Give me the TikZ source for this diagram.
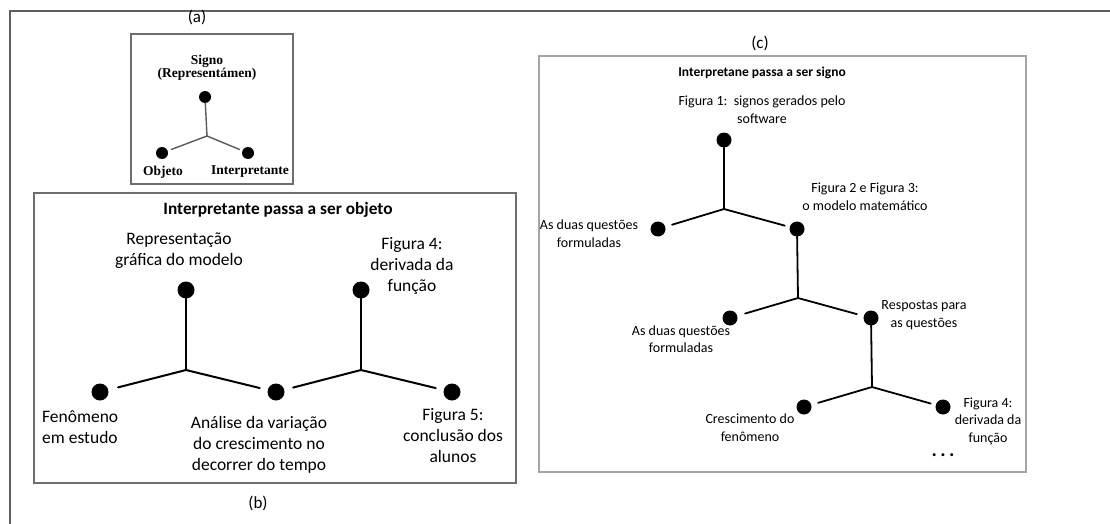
\documentclass[tikz,border=0pt]{standalone}
\usepackage{fontspec}
\setmainfont{Carlito}
\newfontfamily\timesfont{Liberation Serif}
\usetikzlibrary{positioning}
\definecolor{framegray}{RGB}{95,95,95}
\definecolor{boxgray}{RGB}{110,110,110}
\definecolor{lightgray}{RGB}{165,165,165}

\tikzset{
  ponto/.style={circle, fill=black, inner sep=0pt, minimum size=#1},
  rotulo/.style={inner sep=0pt, font=\fontsize{17}{20}\selectfont},
  serifa/.style={inner sep=0pt, align=center, font=\timesfont\bfseries\fontsize{13.5}{12}\selectfont},
  textoB/.style={inner sep=0pt, align=center, font=\fontsize{17.5}{21}\selectfont},
  textoC/.style={inner sep=0pt, align=center, font=\fontsize{14}{17.5}\selectfont},
  haste/.style={line width=#1},
}

\begin{document}
\begin{tikzpicture}[x=1pt, y=-1pt, line cap=round]
  \useasboundingbox (0,0) rectangle (1110,524);

  % Outer frame
  \draw[framegray, line width=1.2] (1110,11) -| (10,524);

  % (a) triad
  \node[rotulo] (labA) at (197,17) {(a)};
  \draw[boxgray, line width=1.2] (131,34) rectangle (293,184);
  \node[serifa] (sigLA) at (207,67.5) {Signo\\(Representámen)};
  \node[ponto=12] (sigA) at (205,97) {};
  \node[ponto=12] (objA) at (162,153) {};
  \node[ponto=12] (intA) at (248,153) {};
  \coordinate (jA) at (207,136);
  \draw[haste=1.4, black!65] (sigA) -- (jA);
  \draw[haste=1.4, black!65, shorten >=4] (jA) -- (objA);
  \draw[haste=1.4, black!65, shorten >=3] (jA) -- (intA);
  \node[serifa] (objLA) at (163,172) {Objeto};
  \node[serifa] (intLA) at (250,172) {Interpretante};

  % (b) interpretante passa a ser objeto
  \node[rotulo] (labB) at (258,503) {(b)};
  \draw[boxgray, line width=1.2] (34,193) rectangle (516,483);
  \node[textoB, font=\bfseries\fontsize{17.3}{19}\selectfont] (titB) at (278,210) {Interpretante passa a ser objeto};
  \node[ponto=17] (repB) at (186,290) {};
  \node[ponto=17] (fenB) at (100,392) {};
  \node[ponto=17] (anaB) at (276,392) {};
  \node[ponto=17] (figQB) at (361,290) {};
  \node[ponto=17] (figCB) at (452,392) {};
  \coordinate (jB1) at (186,370);
  \coordinate (jB2) at (361,370);
  \draw[haste=2] (repB) -- (jB1);
  \draw[haste=2, shorten >=10] (jB1) -- (fenB);
  \draw[haste=2, shorten >=8] (jB1) -- (anaB);
  \draw[haste=2] (figQB) -- (jB2);
  \draw[haste=2, shorten >=9] (jB2) -- (anaB);
  \draw[haste=2, shorten >=8] (jB2) -- (figCB);
  \node[textoB] (repLB) at (179,250.5) {Representação\\gráfica do modelo};
  \node[textoB] (figQLB) at (412,266) {Figura 4:\\derivada da\\função};
  \node[textoB, align=left, anchor=west] (fenLB) at (42,427.5) {Fenômeno\\em estudo};
  \node[textoB] (anaLB) at (259,444.5) {Análise da variação\\do crescimento no\\decorrer do tempo};
  \node[textoB] (figCLB) at (453,436) {Figura 5:\\conclusão dos\\alunos};

  % (c) interpretante passa a ser signo
  \node[rotulo] (labC) at (760,43) {(c)};
  \draw[lightgray, line width=1.5] (539,56) rectangle (1026,472);
  \node[textoC, font=\bfseries\fontsize{13.5}{16}\selectfont] (titC) at (762,73) {Interpretane passa a ser signo};
  \node[ponto=15] (f1C) at (724,140) {};
  \node[ponto=15] (dqC1) at (658,229) {};
  \node[ponto=15] (f23C) at (797,229) {};
  \node[ponto=15] (dqC2) at (730,318) {};
  \node[ponto=15] (respC) at (871,318) {};
  \node[ponto=15] (crC) at (804,407) {};
  \node[ponto=15] (f4C) at (943,407) {};
  \coordinate (jC1) at (724,209);
  \coordinate (jC2) at (798,298);
  \coordinate (jC3) at (872,387);
  \draw[haste=1.8] (f1C) -- (jC1);
  \draw[haste=1.8, shorten >=7] (jC1) -- (dqC1);
  \draw[haste=1.8, shorten >=5] (jC1) -- (f23C);
  \draw[haste=1.8] (f23C) -- (jC2);
  \draw[haste=1.8, shorten >=8] (jC2) -- (dqC2);
  \draw[haste=1.8, shorten >=7] (jC2) -- (respC);
  \draw[haste=1.8] (respC) -- (jC3);
  \draw[haste=1.8, shorten >=7] (jC3) -- (crC);
  \draw[haste=1.8, shorten >=5] (jC3) -- (f4C);
  \node[textoC] (f1LC) at (762,109.5) {Figura 1:~~signos gerados pelo\\software};
  \node[textoC] (dqLC1) at (589,233.5) {As duas questões\\formuladas};
  \node[textoC] (f23LC) at (865,196.5) {Figura 2 e Figura 3:\\o modelo matemático};
  \node[textoC] (dqLC2) at (681,339) {As duas questões\\formuladas};
  \node[textoC] (respLC) at (924,315) {Respostas para\\as questões};
  \node[textoC] (crLC) at (750,427.5) {Crescimento do\\fenômeno};
  \node[textoC] (f4LC) at (988,421) {Figura 4:\\derivada da\\função};
  \node[textoC, font=\bfseries\fontsize{20}{20}\selectfont] (etcC) at (943,455) {.\,.\,.};
\end{tikzpicture}
\end{document}
